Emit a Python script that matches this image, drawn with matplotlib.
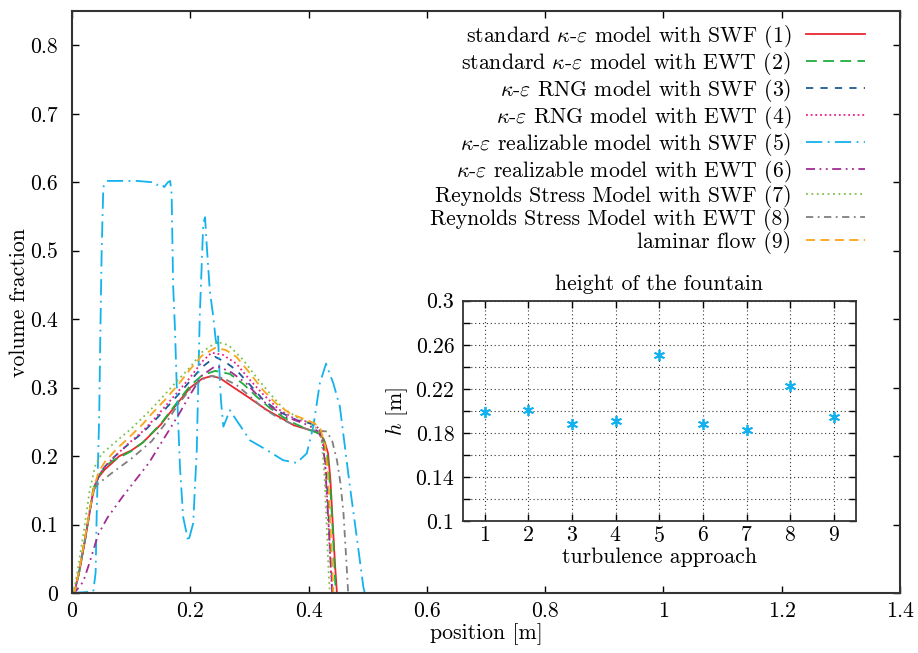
import numpy as np
import matplotlib
matplotlib.use("Agg")
import matplotlib.pyplot as plt
from matplotlib.ticker import FuncFormatter, MultipleLocator

plt.rcParams['font.family'] = 'serif'
plt.rcParams['font.serif'] = ['cmr10']
plt.rcParams['mathtext.fontset'] = 'cm'
plt.rcParams['axes.formatter.use_mathtext'] = True
plt.rcParams['font.size'] = 15.7

# ---- main plot data (volume fraction vs position) ----
x1 = [0, 0.004, 0.012, 0.022, 0.03, 0.036, 0.044, 0.055, 0.068, 0.08, 0.1, 0.12, 0.15, 0.18, 0.2, 0.22, 0.236, 0.25, 0.272, 0.3, 0.33, 0.355, 0.375, 0.395, 0.41, 0.42, 0.427, 0.433, 0.437, 0.441, 0.445, 0.448, 1.4]
y1 = [0, 0, 0.03, 0.077, 0.118, 0.15, 0.168, 0.18, 0.19, 0.2, 0.208, 0.22, 0.246, 0.279, 0.3, 0.313, 0.317, 0.314, 0.301, 0.285, 0.267, 0.255, 0.245, 0.24, 0.236, 0.232, 0.222, 0.204, 0.165, 0.1, 0.038, 0, 0]

x2 = [0, 0.004, 0.012, 0.022, 0.03, 0.036, 0.044, 0.055, 0.068, 0.08, 0.1, 0.12, 0.15, 0.18, 0.2, 0.22, 0.242, 0.267, 0.29, 0.312, 0.335, 0.357, 0.38, 0.402, 0.415, 0.425, 0.432, 0.437, 0.441, 0.444, 0.446, 1.4]
y2 = [0, 0, 0.03, 0.077, 0.12, 0.152, 0.17, 0.183, 0.193, 0.198, 0.207, 0.22, 0.247, 0.281, 0.303, 0.318, 0.3245, 0.32, 0.305, 0.287, 0.27, 0.257, 0.246, 0.238, 0.234, 0.226, 0.2, 0.15, 0.09, 0.035, 0, 0]

x3 = [0, 0.004, 0.012, 0.022, 0.03, 0.038, 0.046, 0.056, 0.073, 0.095, 0.118, 0.14, 0.157, 0.18, 0.2, 0.22, 0.242, 0.26, 0.278, 0.3, 0.3235, 0.35, 0.38, 0.402, 0.418, 0.425, 0.429, 0.433, 0.437, 0.441, 1.4]
y3 = [0, 0, 0.03, 0.078, 0.12, 0.155, 0.172, 0.185, 0.2, 0.217, 0.233, 0.252, 0.268, 0.29, 0.31, 0.33, 0.345, 0.337, 0.3255, 0.305, 0.282, 0.265, 0.2526, 0.248, 0.24, 0.222, 0.19, 0.13, 0.06, 0, 0]

x4 = [0, 0.004, 0.012, 0.022, 0.03, 0.038, 0.046, 0.056, 0.073, 0.095, 0.118, 0.14, 0.157, 0.18, 0.2, 0.22, 0.236, 0.255, 0.278, 0.3, 0.3235, 0.35, 0.38, 0.402, 0.418, 0.424, 0.428, 0.432, 0.436, 0.44, 1.4]
y4 = [0, 0, 0.03, 0.078, 0.12, 0.155, 0.172, 0.185, 0.2, 0.218, 0.235, 0.255, 0.272, 0.295, 0.315, 0.338, 0.351, 0.348, 0.335, 0.312, 0.29, 0.268, 0.2526, 0.25, 0.24, 0.22, 0.19, 0.13, 0.06, 0, 0]

x5 = [0, 0.036, 0.04, 0.0417, 0.044, 0.046, 0.048, 0.0502, 0.053, 0.0587, 0.08, 0.11, 0.137, 0.143, 0.148, 0.152, 0.156, 0.162, 0.166, 0.1685, 0.171, 0.174, 0.177, 0.1826, 0.188, 0.1967, 0.205, 0.211, 0.216, 0.222, 0.225, 0.2277, 0.233, 0.239, 0.243, 0.246, 0.247, 0.249, 0.252, 0.256, 0.267, 0.278, 0.301, 0.329, 0.357, 0.38, 0.397, 0.408, 0.419, 0.4295, 0.442, 0.453, 0.462, 0.47, 0.481, 0.4926, 0.495, 1.4]
y5 = [0, 0.002, 0.03, 0.111, 0.19, 0.257, 0.38, 0.5, 0.593, 0.602, 0.602, 0.602, 0.6, 0.596, 0.598, 0.597, 0.593, 0.6, 0.602, 0.583, 0.45, 0.389, 0.306, 0.184, 0.111, 0.075, 0.102, 0.209, 0.403, 0.54, 0.549, 0.51, 0.442, 0.403, 0.37, 0.36, 0.375, 0.33, 0.28, 0.243, 0.267, 0.2526, 0.223, 0.209, 0.194, 0.19, 0.204, 0.243, 0.306, 0.335, 0.306, 0.272, 0.21, 0.155, 0.085, 0.009, 0, 0]

x6 = [0, 0.004, 0.019, 0.03, 0.044, 0.06, 0.085, 0.13, 0.18, 0.2, 0.22, 0.24, 0.25, 0.27, 0.295, 0.3235, 0.36, 0.4, 0.418, 0.423, 0.428, 0.431, 0.434, 0.437, 0.44, 1.4]
y6 = [0, 0, 0.0165, 0.045, 0.085, 0.11, 0.14, 0.19, 0.26, 0.29, 0.318, 0.33, 0.33, 0.322, 0.306, 0.28, 0.258, 0.245, 0.235, 0.22, 0.19, 0.14, 0.1, 0.05, 0, 0]

x7 = [0, 0.003, 0.01, 0.02, 0.03, 0.04, 0.05, 0.07, 0.1, 0.13, 0.157, 0.18, 0.2, 0.22, 0.245, 0.265, 0.29, 0.312, 0.335, 0.357, 0.38, 0.402, 0.415, 0.422, 0.427, 0.431, 0.434, 0.436, 1.4]
y7 = [0, 0, 0.035, 0.09, 0.15, 0.188, 0.203, 0.218, 0.24, 0.265, 0.29, 0.312, 0.33, 0.352, 0.367, 0.362, 0.34, 0.315, 0.291, 0.27, 0.257, 0.248, 0.24, 0.225, 0.17, 0.09, 0.03, 0, 0]

x8 = [0, 0.004, 0.012, 0.022, 0.03, 0.036, 0.042, 0.067, 0.1, 0.135, 0.16, 0.18, 0.2, 0.22, 0.236, 0.255, 0.278, 0.3, 0.3235, 0.345, 0.369, 0.402, 0.431, 0.44, 0.448, 0.454, 0.459, 0.463, 0.467, 1.4]
y8 = [0, 0, 0.03, 0.077, 0.118, 0.148, 0.158, 0.175, 0.196, 0.222, 0.25, 0.276, 0.298, 0.312, 0.317, 0.314, 0.304, 0.288, 0.27, 0.258, 0.248, 0.238, 0.236, 0.222, 0.194, 0.16, 0.117, 0.06, 0, 0]

x9 = [0, 0.004, 0.012, 0.022, 0.03, 0.038, 0.046, 0.056, 0.075, 0.095, 0.12, 0.135, 0.157, 0.18, 0.2, 0.22, 0.242, 0.26, 0.278, 0.3, 0.3235, 0.345, 0.369, 0.397, 0.41, 0.42, 0.428, 0.433, 0.437, 0.44, 0.442, 1.4]
y9 = [0, 0, 0.032, 0.08, 0.122, 0.158, 0.178, 0.192, 0.21, 0.226, 0.247, 0.262, 0.282, 0.305, 0.327, 0.347, 0.358, 0.355, 0.345, 0.322, 0.296, 0.277, 0.262, 0.2526, 0.248, 0.24, 0.215, 0.17, 0.1, 0.04, 0, 0]

labels = [r"standard $\kappa$-$\varepsilon$ model with SWF (1)",
          r"standard $\kappa$-$\varepsilon$ model with EWT (2)",
          r"$\kappa$-$\varepsilon$ RNG model with SWF (3)",
          r"$\kappa$-$\varepsilon$ RNG model with EWT (4)",
          r"$\kappa$-$\varepsilon$ realizable model with SWF (5)",
          r"$\kappa$-$\varepsilon$ realizable model with EWT (6)",
          "Reynolds Stress Model with SWF (7)",
          "Reynolds Stress Model with EWT (8)",
          "laminar flow (9)"]

# ---- inset data: height of the fountain ----
approach = [1, 2, 3, 4, 5, 6, 7, 8, 9]
height = [0.1986, 0.2005, 0.188, 0.1905, 0.2504, 0.188, 0.1823, 0.2225, 0.1947]

colors = ["#e8282e", "#1fae3c", "#1d5a97", "#ee1e8a", "#13b2ee", "#a12d92", "#7cc24a", "#7f7f7f", "#fba51b"]
styles = ["-", (0, (6, 3.5)), (0, (4, 4)), (0, (1, 1.6)), (0, (9, 3, 1, 3)),
          (0, (5, 2.5, 1, 2.5, 1, 2.5)), (0, (1, 2)), (0, (4, 2.5, 1, 2.5)), (0, (5, 3))]

xs = [x1, x2, x3, x4, x5, x6, x7, x8, x9]
ys = [y1, y2, y3, y4, y5, y6, y7, y8, y9]

fig = plt.figure(figsize=(9.18, 6.53), dpi=100)
ax = fig.add_axes([0.0784, 0.0919, 0.902, 0.891])
for x, y, c, ls, lab in zip(xs, ys, colors, styles, labels):
    ax.plot(x, y, color=c, linestyle=ls, linewidth=1.3, label=lab)

fmt = FuncFormatter(lambda v, p: f"{v:g}")
ax.set_xlim(0, 1.4)
ax.set_ylim(0, 0.85)
ax.xaxis.set_major_locator(MultipleLocator(0.2))
ax.set_yticks(np.arange(0, 0.81, 0.1))
ax.xaxis.set_major_formatter(fmt)
ax.yaxis.set_major_formatter(fmt)
ax.tick_params(direction="in", top=True, right=True, length=5, width=1)
ax.tick_params(axis="y", pad=10)
ax.tick_params(axis="x", pad=6)
for s in ax.spines.values():
    s.set_linewidth(1.5)
    s.set_color("#333333")
ax.set_xlabel("position [m]", labelpad=2)
ax.set_ylabel("volume fraction", labelpad=1)
ax.legend(loc="upper right", frameon=False, markerfirst=False, handlelength=2.7,
          handletextpad=0.7, labelspacing=0.0, borderaxespad=0,
          bbox_to_anchor=(0.9686, 0.995))

# inset
ins = fig.add_axes([0.504, 0.2021, 0.4284, 0.3374])
ins.plot(approach, height, linestyle="none", marker=(6, 2, 0), markersize=8,
         markeredgewidth=1.3, color="#13b2ee")
ins.set_xlim(0.5, 9.5)
ins.set_ylim(0.1, 0.3)
ins.set_xticks(approach)
ins.set_yticks([0.1, 0.14, 0.18, 0.22, 0.26, 0.3])
ins.set_yticks([0.12, 0.16, 0.2, 0.24, 0.28], minor=True)
ins.yaxis.set_major_formatter(fmt)
ins.grid(True, which="both", linestyle=(0, (1, 2.5)), color="#333333", linewidth=0.8)
ins.tick_params(which="both", direction="in", top=True, right=True, length=5, width=1)
ins.tick_params(axis="y", pad=6)
for s in ins.spines.values():
    s.set_linewidth(1.3)
    s.set_color("#333333")
ins.set_title("height of the fountain", pad=8, fontsize=15.7)
ins.set_xlabel("turbulence approach", labelpad=1)
ins.set_ylabel(r"$h$ [m]", labelpad=4)

fig.savefig("out.png", dpi=100)
